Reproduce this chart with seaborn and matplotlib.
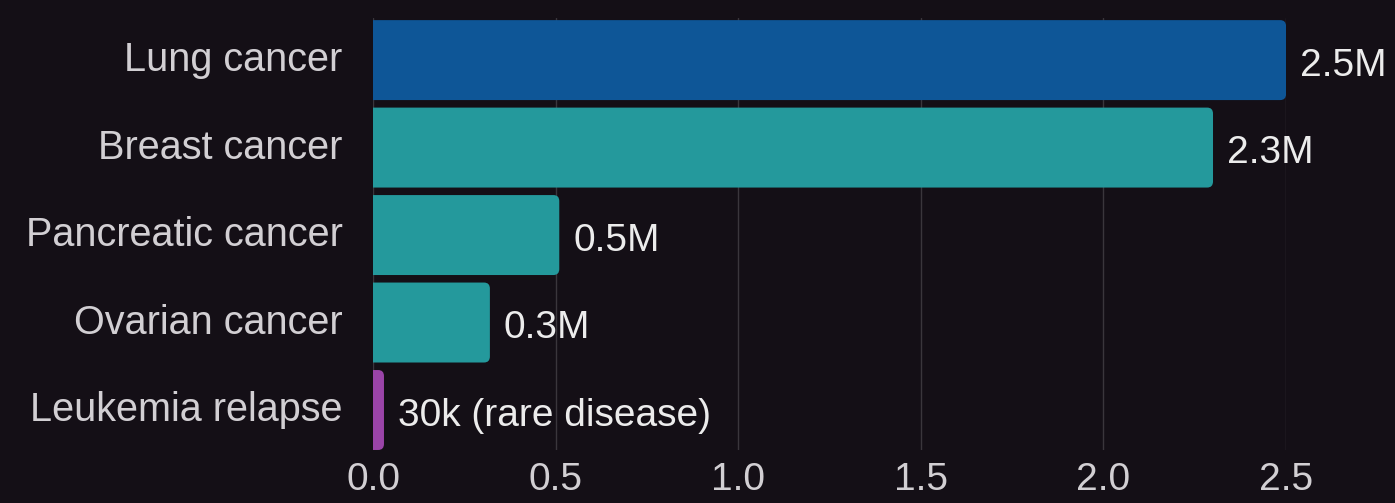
import matplotlib
matplotlib.use("Agg")
import matplotlib.pyplot as plt
import matplotlib.transforms as mtransforms
import seaborn as sns
import pandas as pd
from matplotlib.patches import FancyBboxPatch

categories = ["Lung cancer", "Breast cancer", "Pancreatic cancer", "Ovarian cancer", "Leukemia relapse"]
values = [2.5, 2.3, 0.51, 0.32, 0.03]
labels = ["2.5M", "2.3M", "0.5M", "0.3M", "30k (rare disease)"]
colors = ["#0e5697", "#24999c", "#24999c", "#24999c", "#9a44a8"]
xticks = [0.0, 0.5, 1.0, 1.5, 2.0, 2.5]

BG = "#140f16"
TXT = "#ececec"
TICK = "#d2cfd3"

sns.set_theme(style="dark")
plt.rcParams["font.family"] = ["Liberation Sans", "DejaVu Sans"]

fig = plt.figure(figsize=(13.95, 5.03), dpi=100, facecolor=BG)
ax = fig.add_axes([0.2674, 0.1054, 0.9219 - 0.2674, 0.964 - 0.1054])
ax.set_facecolor(BG)

df = pd.DataFrame({"cat": categories, "val": values})
sns.barplot(data=df, x="val", y="cat", hue="cat", palette=colors, legend=False,
            orient="h", width=0.914, saturation=1, ax=ax, zorder=3)

ax.set_xlim(0, 2.5)
ax.set_ylim(4.457, -0.48)

# replace bars with rounded ones
bars = list(ax.patches)
for p in bars:
    x0, y0 = p.get_x(), p.get_y()
    w, h = p.get_width(), p.get_height()
    fc = p.get_facecolor()
    p.remove()
    r = 0.016
    fb = FancyBboxPatch((x0 - 0.05, y0), w + 0.05, h,
                        boxstyle=f"round,pad=0,rounding_size={r}",
                        mutation_aspect=4.3, facecolor=fc, edgecolor="none",
                        zorder=3, clip_on=True)
    ax.add_patch(fb)

for i, (v, lab) in enumerate(zip(values, labels)):
    ax.annotate(lab, (v, i), xytext=(10, -4), textcoords="offset points",
                va="center", ha="left", color=TXT, fontsize=28, clip_on=False)

ax.set_xticks(xticks)
ax.set_xticklabels([f"{t:.1f}" for t in xticks])
ax.grid(axis="x", color="#3a363c", linewidth=1.0, zorder=0)
ax.grid(axis="y", visible=False)
for s in ax.spines.values():
    s.set_visible(False)
ax.tick_params(axis="y", length=0, pad=22, labelsize=28.5, labelcolor=TICK)
ax.tick_params(axis="x", length=0, pad=9, labelsize=28, labelcolor=TICK)
ax.set_xlabel("")
ax.set_ylabel("")

shift = mtransforms.ScaledTranslation(0, 4 / 100, fig.dpi_scale_trans)
for t in ax.get_yticklabels():
    t.set_transform(t.get_transform() + shift)

fig.savefig("out.png", dpi=100, facecolor=BG)
